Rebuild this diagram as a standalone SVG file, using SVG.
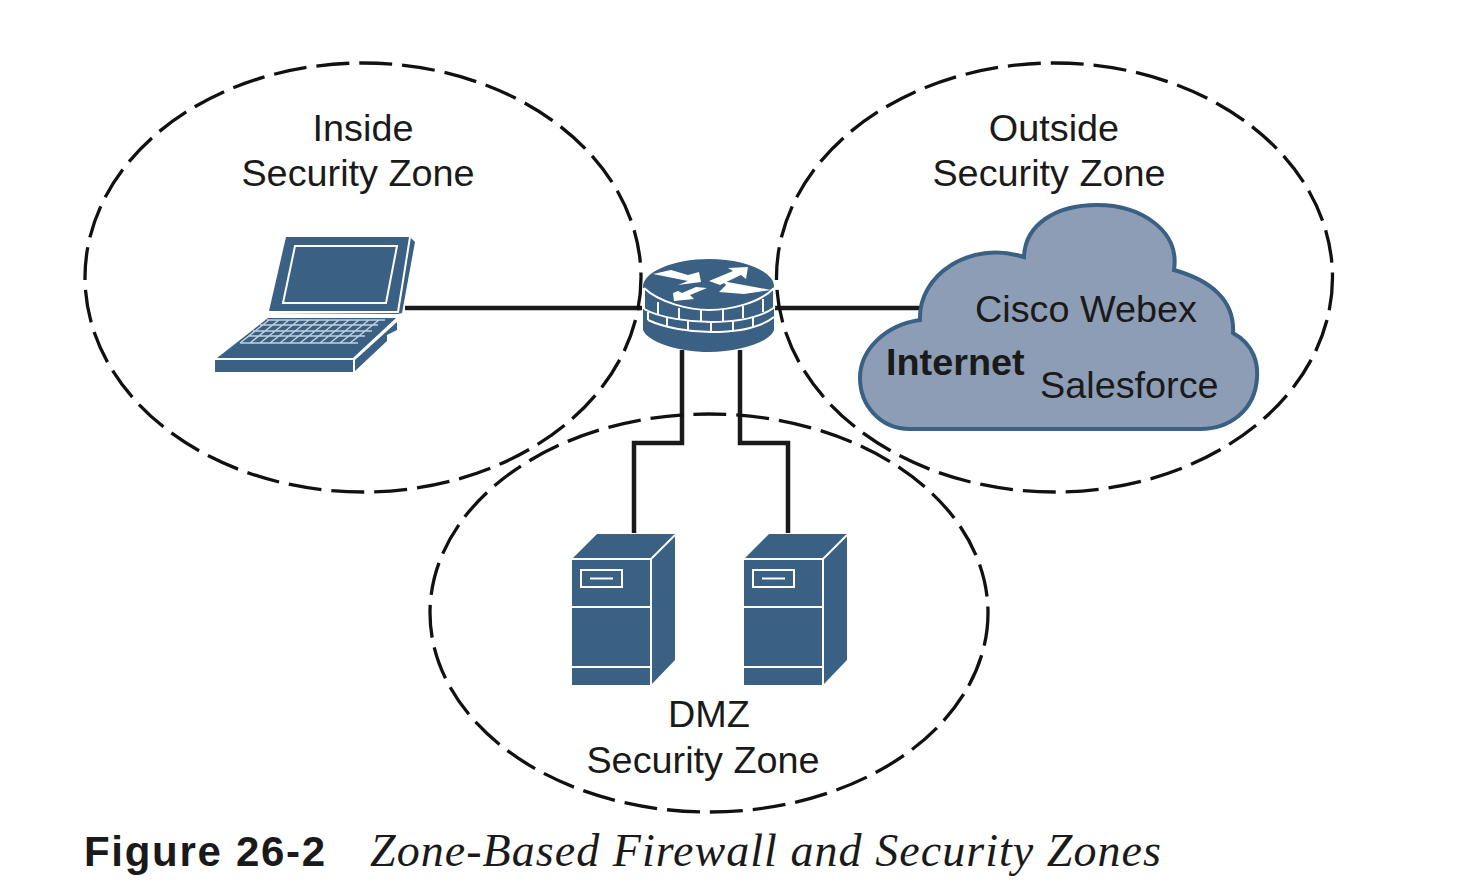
<svg xmlns="http://www.w3.org/2000/svg" width="1474" height="896" viewBox="0 0 1474 896">
<style>
text{font-family:"Liberation Sans",Arial,sans-serif;font-size:37.800px;fill:#1a1a1a}
.zone{fill:none;stroke:#111;stroke-width:3.300;stroke-dasharray:33 10}
.wire{fill:none;stroke:#1a1a1a;stroke-width:4.500}
.blue{fill:#3a6083}
.wl{fill:none;stroke:#fff;stroke-width:2}
.glass{fill:none;stroke:#c3d0db;stroke-width:1.500}
</style>
<defs>
<g id="srv">
<path class="blue" d="M572 559L597 534H675V660L651 685H572Z"/>
<path class="wl" d="M571 559H651L675 535M651 559V685M571 607H651M571 667H651"/>
<rect class="wl" x="581" y="570" width="41" height="17"/>
<path class="wl" d="M590 578.500H613"/>
</g>
</defs>
<rect width="1474" height="896" fill="#fff"/>
<g id="connectors">
<path class="wire" d="M405 308H642M775 308H920M682 350V443H634V533M740 350V443H788V533"/>
</g>
<g id="zone-inside"><ellipse class="zone" cx="363" cy="277.500" rx="278" ry="214.500"/>
<text x="363" y="141" text-anchor="middle">Inside</text><text x="358" y="186" text-anchor="middle">Security Zone</text></g>
<g id="zone-outside"><ellipse class="zone" cx="1054.500" cy="277.500" rx="278" ry="214.500"/>
<text x="1054" y="141" text-anchor="middle">Outside</text><text x="1049" y="186" text-anchor="middle">Security Zone</text></g>
<g id="zone-dmz"><ellipse class="zone" cx="709" cy="613" rx="279" ry="199"/>
<text x="709" y="727" text-anchor="middle">DMZ</text><text x="703" y="773" text-anchor="middle">Security Zone</text></g>
<g id="laptop">
<path class="blue" d="M286 237H410L415 242L402 313L398 314L270 313L269 311Z"/>
<path class="wl" d="M295 246H397L386 303H283Z"/>
<path class="wl" d="M410 237L398 312H269"/>
<path class="blue" d="M268 318H396L353 358H217Z"/>
<path class="blue" d="M215 360H353V372H215Z"/>
<path class="blue" d="M355 371V360L397 322V330L387 335V341Z"/>
<path class="glass" d="M267 320H385M260 325H378M253 331H372M248 336H365M240 343H358M240 343L269 320M250 343L279 320M260 343L289 320M270 343L299 320M280 343L309 320M290 343L319 320M300 343L329 320M310 343L339 320M320 343L349 320M330 343L359 320M340 343L369 320M350 343L379 320"/>
</g>
<g id="firewall-router">
<path class="blue" d="M643 287C643 272 673 259 709 259C745 259 775 272 774 287V330C770 342 740 352 709 352C678 352 648 342 643 330Z"/>
<path class="wl" d="M644 288C660 303 690 310 709 310C730 310 760 303 774 288M644 309C660 318 690 322 711 322C735 322 760 318 775 307M648 320C665 328 690 332 711 332C735 332 760 328 774 317M644 288V309M774 288V307"/>
<path class="wl" d="M658 302V315M679 308V319M701 309V321M723 309V321M743 306V318M763 299V312M648 312V320M667 318V327M688 321V331M711 322V332M733 321V331M753 318V328"/>
<path fill="#fff" d="M653 274L671 270L688 275L699 272L701 282L678 285L688 281ZM709 281L733 271L728 268L748 267L746 279L741 275L720 285ZM673 293L674 301L694 299L690 295L707 288L696 287L682 293L678 291ZM719 292L726 285L722 281L771 290L744 294Z"/>
</g>
<g id="server-1"><use href="#srv"/></g>
<g id="server-2"><use href="#srv" x="172"/></g>
<g id="internet-cloud">
<path fill="#8d9db5" stroke="#3a6083" stroke-width="4" d="M920 320C918 275 970 240 1024 257C1025 225 1055 205 1097 205C1140 205 1180 230 1174 270C1210 280 1235 300 1233 333C1255 345 1258 365 1257 378C1255 410 1230 429 1200 429H910C880 429 860 405 860 378C860 350 885 325 920 320Z"/>
<text x="975" y="322">Cisco Webex</text>
<text x="886" y="375" style="font-weight:700">Internet</text>
<text x="1040" y="398">Salesforce</text>
</g>
<g id="caption">
<text x="84" y="866" style="font-weight:700;font-size:42px;letter-spacing:1.700px">Figure 26-2</text>
<text x="370" y="866" style="font-family:'Liberation Serif',serif;font-style:italic;font-size:46px;letter-spacing:1.050px">Zone-Based Firewall and Security Zones</text>
</g>
</svg>
